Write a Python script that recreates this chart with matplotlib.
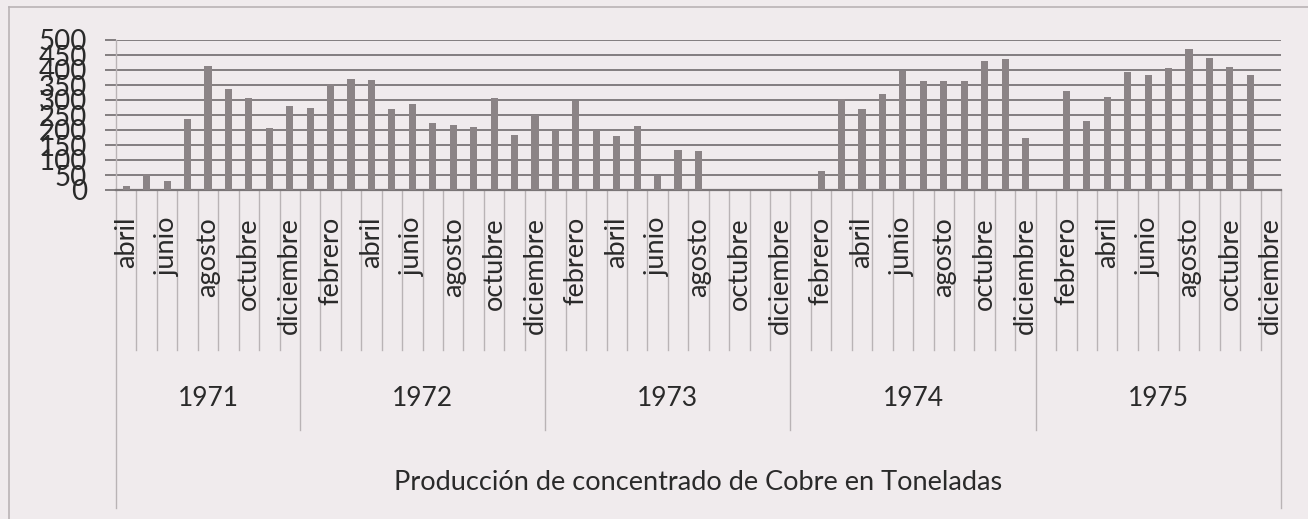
import numpy as np
import matplotlib
matplotlib.use("Agg")
import matplotlib.pyplot as plt
from matplotlib.lines import Line2D

plt.rcParams['font.family'] = ['Lato', 'DejaVu Sans']

# ---- data ----
month_names = ["enero", "febrero", "marzo", "abril", "mayo", "junio", "julio",
               "agosto", "septiembre", "octubre", "noviembre", "diciembre"]
years = ["1971", "1972", "1973", "1974", "1975"]
months_per_year = [9, 12, 12, 12, 12]   # 1971 starts in abril
values_1971 = [15, 55, 30, 237, 413, 337, 307, 208, 280]
values_1972 = [274, 353, 370, 367, 271, 288, 223, 216, 210, 306, 182, 250]
values_1973 = [199, 296, 200, 179, 214, 48, 132, 129, np.nan, np.nan, np.nan, np.nan]
values_1974 = [np.nan, 64, 302, 270, 320, 397, 362, 362, 362, 430, 436, 174]
values_1975 = [np.nan, 331, 230, 309, 392, 382, 406, 469, 441, 410, 382, np.nan]
y_ticks = [0, 50, 100, 150, 200, 250, 300, 350, 400, 450, 500]
title = "Producción de concentrado de Cobre en Toneladas"

values = values_1971 + values_1972 + values_1973 + values_1974 + values_1975
labels = month_names[3:] + month_names * 4
n = len(values)
x = np.arange(n)

# ---- style ----
bg = '#f0ebed'
bar_col = '#8b8486'
grid_col = '#7a7577'
light_col = '#b9b3b5'
text_col = '#2a2a2a'

W, H = 1308, 519
fig = plt.figure(figsize=(W / 100, H / 100), dpi=100, facecolor=bg)
ax_l, ax_r, ax_t, ax_b = 116, 1281, 40, 190
ax = fig.add_axes([ax_l / W, 1 - ax_b / H, (ax_r - ax_l) / W, (ax_b - ax_t) / H])
ax.set_facecolor(bg)

ax.bar(x, np.nan_to_num(values), width=0.35, color=bar_col, zorder=3)
ax.set_xlim(-0.5, n - 0.5)
ax.set_ylim(0, 500)
ax.set_yticks(y_ticks)
ax.set_yticklabels([str(v) for v in y_ticks], fontsize=20, color=text_col)
ax.tick_params(axis='y', length=8, width=1.3, color=grid_col, pad=13)
ax.set_xticks([])
ax.yaxis.grid(True, color=grid_col, linewidth=1.3, zorder=1)
for s in ['top', 'right']:
    ax.spines[s].set_visible(False)
ax.spines['left'].set_color(light_col)
ax.spines['left'].set_linewidth(1.0)
ax.spines['bottom'].set_color(grid_col)
ax.spines['bottom'].set_linewidth(1.6)

trans = ax.get_xaxis_transform()
ah = ax_b - ax_t


def ay(py):
    return -(py - ax_b) / ah


# category boundary lines
year_bounds = np.cumsum([0] + months_per_year) - 0.5
for b in np.arange(n + 1) - 0.5:
    if b in (year_bounds[0], year_bounds[-1]):
        yend = ay(508)
    elif b in year_bounds:
        yend = ay(430)
    else:
        yend = ay(350)
    ax.add_line(Line2D([b, b], [0, yend], transform=trans, color=light_col,
                       linewidth=1.0, clip_on=False, zorder=0))

# month labels (every other category)
for i in range(0, n, 2):
    ax.text(i, ay(217), labels[i], transform=trans, rotation=90, ha='center',
            va='top', fontsize=19.5, color=text_col)

# year labels
for k, yr in enumerate(years):
    c = (year_bounds[k] + year_bounds[k + 1]) / 2
    ax.text(c, ay(398), yr, transform=trans, ha='center', va='center',
            fontsize=19, color=text_col)

ax.text(0.5, ay(482), title, transform=ax.transAxes, ha='center', va='center',
        fontsize=19.5, color=text_col)

# outer frame
fig.add_artist(Line2D([9 / W, 9 / W], [0, 1 - 7 / H], transform=fig.transFigure,
                      color=light_col, linewidth=1.2))
fig.add_artist(Line2D([9 / W, 1], [1 - 7 / H, 1 - 7 / H], transform=fig.transFigure,
                      color=light_col, linewidth=1.2))

fig.savefig("out.png", dpi=100, facecolor=bg)
